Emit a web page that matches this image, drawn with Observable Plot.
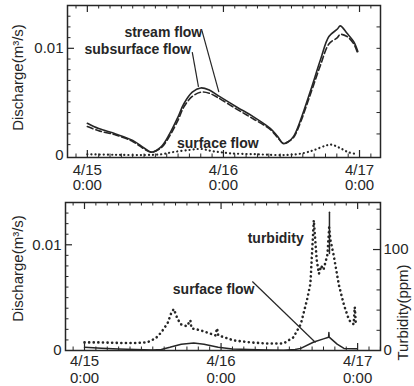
<!DOCTYPE html>
<html>
<head>
<meta charset="utf-8">
<script src="https://cdn.jsdelivr.net/npm/d3@7"></script>
<script src="https://cdn.jsdelivr.net/npm/@observablehq/plot@0.6"></script>
<style>
  body { margin: 0; background: #fff; }
  #chart { width: 414px; height: 386px; position: relative; background: #fff; }
  #top { width: 414px; height: 190px; }
  #bottom { position: relative; width: 414px; height: 196px; }
  #bottom svg { position: absolute; left: 0; top: 0; }
</style>
</head>
<body>
<div id="chart"><div id="top"></div><div id="bottom"></div></div>
<script>
// ---------------- DATA (hours after 4/15 0:00) ----------------
// Upper panel: stream flow (solid) and subsurface flow (dashed), m3/s
const streamHours   = [0, 2, 5, 8, 10, 11.3, 13, 14.5, 16, 17, 18.5, 20, 21.5, 23, 26.4, 29.3, 32.3, 33.5, 34.6, 35.5, 36.4, 37.6, 39.4, 41.1, 42.6, 44.1, 44.6, 45.8, 47, 47.7];
const streamFlow    = [0.0030, 0.0025, 0.0020, 0.0014, 0.0007, 0.0003, 0.0008, 0.0020, 0.0036, 0.0048, 0.0059, 0.0063, 0.0061, 0.0056, 0.0045, 0.0036, 0.0025, 0.0018, 0.0011, 0.0013, 0.0018, 0.0033, 0.0061, 0.0089, 0.0111, 0.0118, 0.0121, 0.0114, 0.0106, 0.0097];
const subsurfaceFlow= [0.0027, 0.0023, 0.0019, 0.0013, 0.0006, 0.0003, 0.0007, 0.0018, 0.0033, 0.0045, 0.0055, 0.0059, 0.0058, 0.0054, 0.0043, 0.0034, 0.0024, 0.0017, 0.0011, 0.0013, 0.0017, 0.0031, 0.0058, 0.0084, 0.0104, 0.0110, 0.0113, 0.0111, 0.0104, 0.0095];
// Upper panel: surface flow (dotted), m3/s
const surfaceHoursTop = [0, 5, 10, 13, 15, 18, 20, 22, 25, 30, 35, 38, 40, 42, 43, 44.5, 46, 47.7];
const surfaceFlowTop  = [0.0001, 0.00005, 0.00003, 0.0001, 0.0003, 0.0005, 0.0006, 0.0004, 0.0002, 0.0001, 0.00003, 0.0002, 0.0005, 0.0009, 0.0010, 0.0007, 0.0003, 0.0001];
// Lower panel: surface flow (solid), m3/s
const surfaceHoursBottom = [0, 3, 6, 9, 12, 13.5, 15, 17, 19.2, 21, 23.5, 26, 29, 32, 35, 37, 38, 40.3, 42, 42.9, 42.95, 43.0, 44.4, 45.6, 47.9];
const surfaceFlowBottom  = [0.0003, 0.00022, 0.00015, 0.0001, 0.00005, 0.0001, 0.0003, 0.0006, 0.0007, 0.0006, 0.0003, 0.00015, 0.0001, 0.00005, 0.00002, 0.0001, 0.0002, 0.0008, 0.0011, 0.00126, 0.0017, 0.00126, 0.0006, 0.0002, 0.00016];
// Lower panel: turbidity (dotted), ppm
const turbidityHours = [0, 3, 6, 9, 11, 12.5, 13.5, 14.6, 15.3, 15.7, 16.3, 16.9, 18, 18.6, 18.8, 20.4, 23.0, 23.3, 23.5, 26.2, 29.2, 32, 35, 36.7, 38, 39.1, 39.7, 40.3, 40.8, 41.2, 41.6, 42, 42.7, 43.0, 43.2, 43.8, 44.7, 45.6, 46.5, 47.3, 47.5, 47.7];
const turbidityPpm   = [8, 8, 7.5, 7.5, 8, 12, 18, 27, 38, 41, 32, 26, 24, 30, 22, 20, 15, 22, 15, 10, 8, 7, 7, 13, 26, 50, 66, 129, 90, 76, 84, 80, 95, 122, 110, 94, 65, 45, 30, 26, 43, 25];
// solid pen segment drawn at the second turbidity peak
const turbiditySolidHours = [43.05, 43.05];
const turbiditySolidPpm   = [96, 137];

const dayTicks = [0, 24, 48];
const dayTickLabels = ["4/15\n0:00", "4/16\n0:00", "4/17\n0:00"];
const dischargeTicks = [0, 0.01];
const dischargeTickLabels = ["0", "0.01"];
const turbidityTicks = [0, 100];
const turbidityTickLabels = ["0", "100"];

// ---------------- STYLE ----------------
const INK = "#262626";
const FONT = "'Liberation Sans', Arial, Helvetica, sans-serif";

function range(a, b, step) {
  const out = [];
  for (let v = a; v <= b + step * 1e-6; v += step) out.push(+v.toFixed(6));
  return out;
}
function xEdgeTicks(pH, domain) {
  const minor = range(-2, domain[1], 2).filter(d => !dayTicks.includes(d));
  return [
    Plot.tickX(minor, {x: d => d, insetTop: pH - 3.5, stroke: INK}),
    Plot.tickX(dayTicks, {x: d => d, insetTop: pH - 7, stroke: INK, strokeWidth: 1.2}),
    Plot.tickX(minor, {x: d => d, insetBottom: pH - 3.5, stroke: INK}),
    Plot.tickX(dayTicks, {x: d => d, insetBottom: pH - 7, stroke: INK, strokeWidth: 1.2})
  ];
}
function yEdgeTicks(pW, minor, major, side) {
  const k = side === "left" ? "insetRight" : "insetLeft";
  return [
    Plot.tickY(minor, {y: d => d, [k]: pW - 3.5, stroke: INK}),
    Plot.tickY(major, {y: d => d, [k]: pW - 7, stroke: INK, strokeWidth: 1.2})
  ];
}
const W = 414;

// ---------------- TOP PANEL ----------------
{
  const H = 190, mt = 5, mb = 33, ml = 67, mr = 34;
  const pH = H - mt - mb, pW = W - ml - mr;
  const xDomain = [-3.5, 51.7];
  const rows = streamHours.map((h, i) => ({h, stream: streamFlow[i], sub: subsurfaceFlow[i]}));
  const surf = surfaceHoursTop.map((h, i) => ({h, v: surfaceFlowTop[i]}));
  const labels = [
    {h: 13.4, v: 0.0115, t: "stream flow"},
    {h: 8.9, v: 0.0099, t: "subsurface flow"},
    {h: 23.0, v: 0.00112, t: "surface flow"}
  ];
  const leaders = [
    {x1: 20.2, y1: 0.01168, x2: 23.2, y2: 0.0059},
    {x1: 18.5, y1: 0.00965, x2: 19.6, y2: 0.0064}
  ];
  const p = Plot.plot({
    width: W, height: H, marginTop: mt, marginBottom: mb, marginLeft: ml, marginRight: mr,
    x: {domain: xDomain},
    y: {domain: [-0.0002, 0.0140]},
    style: {fontFamily: FONT, color: INK, background: "white", overflow: "visible"},
    marks: [
      Plot.frame({stroke: INK, strokeWidth: 1.5}),
      ...xEdgeTicks(pH, xDomain),
      ...yEdgeTicks(pW, range(0.001, 0.013, 0.001).filter(d => d !== 0.01), [0.01], "left"),
      ...yEdgeTicks(pW, range(0.002, 0.012, 0.002), [], "right"),
      Plot.axisX({ticks: dayTicks, tickFormat: d => dayTickLabels[dayTicks.indexOf(d)], tickSize: 0, tickPadding: 6, fontSize: 15, lineHeight: 1.05, label: null}),
      Plot.axisY({ticks: dischargeTicks, tickFormat: d => dischargeTickLabels[dischargeTicks.indexOf(d)], tickSize: 0, tickPadding: 4, fontSize: 15, label: null}),
      Plot.text(["Discharge(m³/s)"], {frameAnchor: "left", text: d => d, rotate: -90, textAnchor: "middle", lineAnchor: "middle", dx: -49, dy: -4, fontSize: 15}),
      Plot.line(surf, {x: "h", y: "v", stroke: INK, strokeWidth: 2.2, strokeDasharray: "0.1,4", strokeLinecap: "round", curve: "catmull-rom"}),
      Plot.line(rows, {x: "h", y: "sub", stroke: INK, strokeWidth: 1.6, strokeDasharray: "6,3", curve: "catmull-rom"}),
      Plot.line(rows, {x: "h", y: "stream", stroke: INK, strokeWidth: 1.6, curve: "catmull-rom"}),
      Plot.link(leaders, {x1: "x1", y1: "y1", x2: "x2", y2: "y2", stroke: INK, strokeWidth: 1.2}),
      Plot.text(labels, {x: "h", y: "v", text: "t", fontSize: 14, fontWeight: "bold", fill: INK})
    ]
  });
  document.getElementById("top").append(p);
}

// ---------------- BOTTOM PANEL ----------------
{
  const H = 196, mt = 12, mb = 36, ml = 65, mr = 34;
  const pH = H - mt - mb, pW = W - ml - mr;
  const xDomain = [-3.34, 52.02];
  const surf = surfaceHoursBottom.map((h, i) => ({h, v: surfaceFlowBottom[i]}));
  const turb = turbidityHours.map((h, i) => ({h, ppm: turbidityPpm[i]}));
  const turbSolid = turbiditySolidHours.map((h, i) => ({h, ppm: turbiditySolidPpm[i]}));
  const common = {
    width: W, height: H, marginTop: mt, marginBottom: mb, marginLeft: ml, marginRight: mr
  };
  const p1 = Plot.plot({
    ...common,
    x: {domain: xDomain},
    y: {domain: [0, 0.014]},
    style: {fontFamily: FONT, color: INK, background: "white", overflow: "visible"},
    marks: [
      Plot.frame({stroke: INK, strokeWidth: 1.5}),
      ...xEdgeTicks(pH, xDomain),
      ...yEdgeTicks(pW, range(0.001, 0.013, 0.001).filter(d => d !== 0.01), [0.01], "left"),
      Plot.axisX({ticks: dayTicks, tickFormat: d => dayTickLabels[dayTicks.indexOf(d)], tickSize: 0, tickPadding: 4, fontSize: 15, lineHeight: 1.1, label: null}),
      Plot.axisY({ticks: dischargeTicks, tickFormat: d => dischargeTickLabels[dischargeTicks.indexOf(d)], tickSize: 0, tickPadding: 4, fontSize: 15, label: null}),
      Plot.text(["Discharge(m³/s)"], {frameAnchor: "left", text: d => d, rotate: -90, textAnchor: "middle", lineAnchor: "middle", dx: -47, dy: -8, fontSize: 15}),
      Plot.line(surf, {x: "h", y: "v", stroke: INK, strokeWidth: 1.5}),
      Plot.link([{x1: 29.5, y1: 0.00653, x2: 40.6, y2: 0.00076}], {x1: "x1", y1: "y1", x2: "x2", y2: "y2", stroke: INK, strokeWidth: 1.2}),
      Plot.text([{h: 22.7, v: 0.0058, t: "surface flow"}], {x: "h", y: "v", text: "t", fontSize: 14, fontWeight: "bold", fill: INK})
    ]
  });
  const p2 = Plot.plot({
    ...common,
    x: {domain: xDomain, axis: null},
    y: {domain: [0, 146.6], axis: null},
    style: {fontFamily: FONT, color: INK, background: "transparent", overflow: "visible"},
    marks: [
      ...yEdgeTicks(pW, range(20, 140, 20).filter(d => d !== 100), [100], "right"),
      Plot.axisY({anchor: "right", ticks: turbidityTicks, tickFormat: d => turbidityTickLabels[turbidityTicks.indexOf(d)], tickSize: 0, tickPadding: 3, fontSize: 15, label: null}),
      Plot.text(["Turbidity(ppm)"], {frameAnchor: "right", text: d => d, rotate: -90, textAnchor: "middle", lineAnchor: "middle", dx: 23, dy: 36, fontSize: 15}),
      Plot.line(turb, {x: "h", y: "ppm", stroke: INK, strokeWidth: 2.6, strokeDasharray: "0.1,4.5", strokeLinecap: "round"}),
      Plot.line(turbSolid, {x: "h", y: "ppm", stroke: INK, strokeWidth: 1.5}),
      Plot.text([{h: 33.6, ppm: 111, t: "turbidity"}], {x: "h", y: "ppm", text: "t", fontSize: 14, fontWeight: "bold", fill: INK})
    ]
  });
  const b = document.getElementById("bottom");
  b.append(p1);
  b.append(p2);
}
</script>
</body>
</html>
